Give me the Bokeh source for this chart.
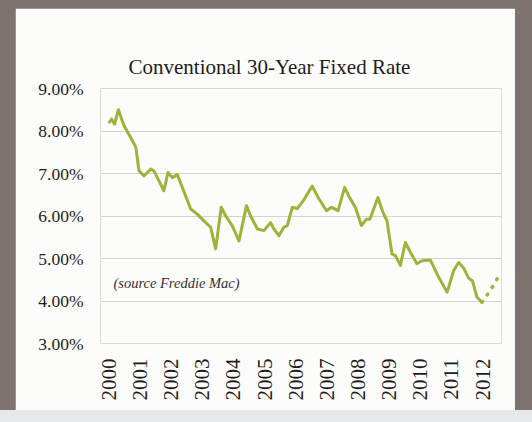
import math
from bokeh.plotting import figure
from bokeh.models import FixedTicker, Label, Range1d, GlobalInlineStyleSheet
from bokeh.embed import file_html
from bokeh.resources import INLINE

# Conventional 30-year fixed rate (%)
years = [2000.00, 2000.09, 2000.19, 2000.31, 2000.49, 2000.76, 2000.87, 2000.97,
         2001.13, 2001.35, 2001.45, 2001.77, 2001.90, 2002.04, 2002.20, 2002.63,
         2002.84, 2003.11, 2003.27, 2003.43, 2003.61, 2003.75, 2003.96, 2004.18,
         2004.42, 2004.55, 2004.77, 2004.98, 2005.19, 2005.30, 2005.46, 2005.62,
         2005.73, 2005.89, 2006.05, 2006.24, 2006.53, 2006.72, 2006.99, 2007.15,
         2007.36, 2007.57, 2007.73, 2007.92, 2008.11, 2008.27, 2008.38, 2008.64,
         2008.80, 2008.93, 2009.09, 2009.20, 2009.36, 2009.52, 2009.68, 2009.89,
         2010.05, 2010.32, 2010.59, 2010.86, 2011.07, 2011.23, 2011.39, 2011.55,
         2011.67, 2011.82, 2011.98]
rates = [8.19, 8.29, 8.17, 8.51, 8.13, 7.78, 7.62, 7.07,
         6.95, 7.11, 7.07, 6.60, 7.03, 6.91, 6.98, 6.17,
         6.05, 5.85, 5.74, 5.23, 6.21, 6.01, 5.78, 5.42,
         6.25, 6.01, 5.70, 5.66, 5.85, 5.70, 5.54, 5.74,
         5.78, 6.21, 6.18, 6.36, 6.71, 6.44, 6.13, 6.21,
         6.13, 6.68, 6.44, 6.20, 5.78, 5.93, 5.93, 6.44,
         6.09, 5.89, 5.11, 5.07, 4.84, 5.38, 5.15, 4.88,
         4.95, 4.97, 4.56, 4.21, 4.72, 4.91, 4.78, 4.54,
         4.48, 4.09, 3.97]

# dotted projection at the end
proj_years = [2011.98, 2012.27, 2012.56]
proj_rates = [3.97, 4.28, 4.64]

x_ticks = list(range(2000, 2013))
x_tick_labels = [str(y) for y in x_ticks]
y_ticks = [3, 4, 5, 6, 7, 8, 9]
y_tick_labels = ["3.00%", "4.00%", "5.00%", "6.00%", "7.00%", "8.00%", "9.00%"]

title_text = "Conventional 30-Year Fixed Rate"
source_text = "(source Freddie Mac)"

SERIF = "Liberation Serif"
TEXT = "#1e1c1c"
PANEL = "#fcfcfa"

p = figure(width=500, height=402,
           x_range=Range1d(1999.735, 2012.605), y_range=Range1d(3, 9.01),
           output_backend="svg", toolbar_location=None,
           min_border_left=85, min_border_right=14,
           min_border_top=80, min_border_bottom=67)
p.stylesheets = [GlobalInlineStyleSheet(
    css="html { background: linear-gradient(to bottom, #7e736f 410px, #e6e9ea 410px) no-repeat, #e6e9ea; }"
        " body { background: transparent; margin: 8px 8px 8px 15px; }")]

p.background_fill_color = PANEL
p.border_fill_color = PANEL
p.outline_line_color = None

p.title.text = title_text
p.title.text_font = SERIF
p.title.text_font_size = "21px"
p.title.text_font_style = "normal"
p.title.text_color = TEXT
p.title.align = "left"
p.title.offset = 28
p.title.standoff = 19

# x axis
p.xaxis.ticker = FixedTicker(ticks=x_ticks)
p.xaxis.major_label_overrides = dict(zip(x_ticks, x_tick_labels))
p.xaxis.major_label_orientation = math.pi / 2
p.xaxis.major_label_standoff = 15
p.xaxis.major_label_text_font = SERIF
p.xaxis.major_label_text_font_size = "21px"
p.xaxis.major_label_text_color = TEXT

# y axis
p.yaxis.ticker = FixedTicker(ticks=y_ticks)
p.yaxis.major_label_overrides = dict(zip(y_ticks, y_tick_labels))
p.yaxis.major_label_standoff = 17
p.yaxis.major_label_text_font = SERIF
p.yaxis.major_label_text_font_size = "17.5px"
p.yaxis.major_label_text_color = TEXT

for ax in (p.xaxis, p.yaxis):
    ax.axis_line_color = None
    ax.major_tick_line_color = None
    ax.minor_tick_line_color = None
    ax.major_tick_out = 0
    ax.major_tick_in = 0

p.xgrid.visible = False
p.ygrid.ticker = FixedTicker(ticks=y_ticks)
p.ygrid.grid_line_color = "#d8d2ce"
p.ygrid.grid_line_width = 1.2

p.line(years, rates, line_color="#9bb43a", line_width=3, line_join="round")
p.line(proj_years, proj_rates, line_color="#9bb43a", line_width=3.5,
       line_dash="1 8", line_cap="round")

p.add_layout(Label(x=2000.15, y=4.43, text=source_text, text_font=SERIF,
                   text_font_style="italic", text_font_size="14.5px",
                   text_baseline="middle", text_color="#333030"))

open("out.html", "w").write(file_html(p, INLINE))
